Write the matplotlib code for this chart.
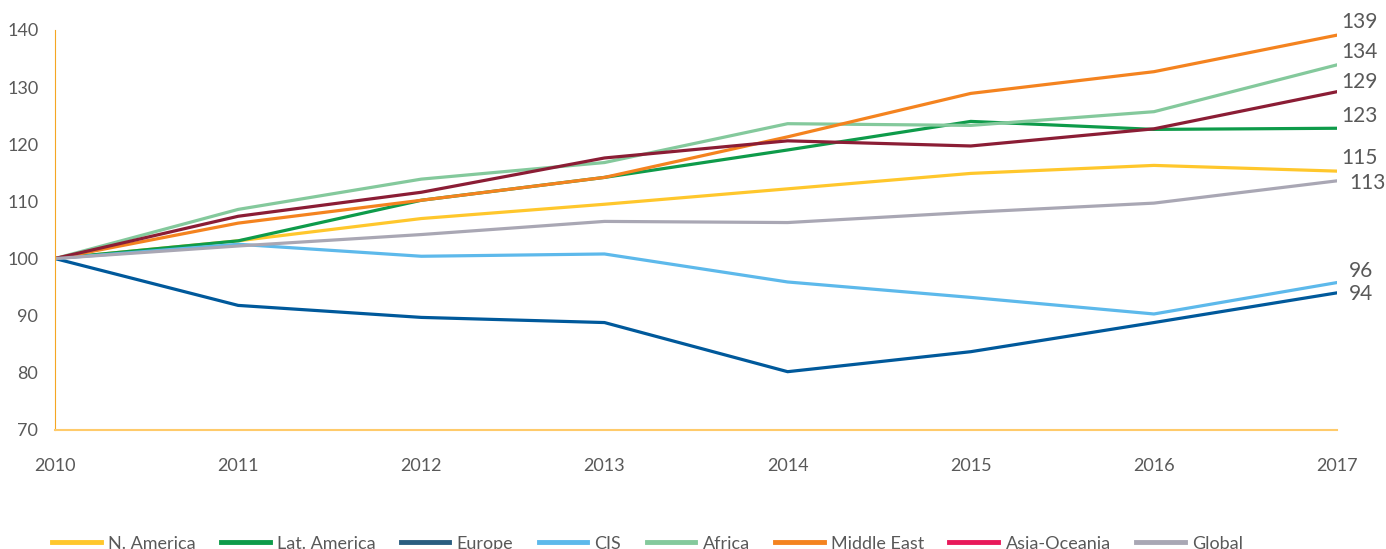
import matplotlib
matplotlib.use("Agg")
import matplotlib.pyplot as plt

plt.rcParams['font.family'] = ['Lato', 'DejaVu Sans']

years = [2010, 2011, 2012, 2013, 2014, 2015, 2016, 2017]

n_america = [100, 103.1, 107.0, 109.5, 112.2, 114.9, 116.3, 115.3]
lat_america = [100, 103.1, 110.2, 114.2, 119.0, 124.0, 122.6, 122.8]
europe = [100, 91.8, 89.7, 88.8, 80.2, 83.7, 88.8, 94.0]
cis = [100, 102.5, 100.4, 100.8, 95.9, 93.2, 90.3, 95.8]
africa = [100, 108.6, 113.9, 116.8, 123.6, 123.3, 125.7, 133.9]
middle_east = [100, 106.2, 110.2, 114.2, 121.3, 128.9, 132.7, 139.1]
asia_oceania = [100, 107.4, 111.6, 117.6, 120.6, 119.7, 122.7, 129.2]
global_idx = [100, 102.2, 104.2, 106.5, 106.3, 108.1, 109.7, 113.6]

names = ['N. America', 'Lat. America', 'Europe', 'CIS', 'Africa',
         'Middle East', 'Asia-Oceania', 'Global']
end_labels = ['115', '123', '94', '96', '134', '139', '129', '113']

series = [n_america, lat_america, europe, cis, africa, middle_east,
          asia_oceania, global_idx]
colors = ['#FFC72C', '#0E9B4A', '#00599B', '#5DB9EB', '#84C99C',
          '#F4831F', '#8B1D35', '#A9A7B4']
legend_colors = ['#FFC72C', '#0E9B4A', '#2A5D80', '#5DB9EB', '#84C99C',
                 '#F4831F', '#E8185A', '#A9A7B4']
# label offsets in pixels (dx, dy)
offsets = [(4, 13), (4, 12), (12, -1), (12, 12), (4, 13), (4, 13), (4, 10), (12, -2)]

fig = plt.figure(figsize=(13.86, 5.49), dpi=100)
ax = fig.add_axes([0.0397, 0.2168, 0.9250, 0.7286])

for vals, c, lab, off in zip(series, colors, end_labels, offsets):
    ax.plot(years, vals, color=c, lw=2.3, solid_joinstyle='round')
    ax.annotate(lab, (years[-1], vals[-1]), xytext=off, textcoords='offset pixels',
                ha='left', va='center', fontsize=15, color='#595959',
                annotation_clip=False)

ax.set_xlim(2010, 2017)
ax.set_ylim(70, 140)
ax.set_xticks(years)
ax.set_yticks(range(70, 141, 10))
ax.tick_params(length=0, labelsize=13, colors='#595959')
ax.tick_params(axis='x', pad=20)
ax.tick_params(axis='y', pad=12)

for s in ['top', 'right']:
    ax.spines[s].set_visible(False)
ax.spines['left'].set_color('#F5A623')
ax.spines['left'].set_linewidth(0.8)
ax.spines['bottom'].set_color('#FFCB6B')
ax.spines['bottom'].set_linewidth(1.5)

handles = [plt.Line2D([], [], color=c, lw=3.5) for c in legend_colors]
fig.legend(handles, names, loc='center left', bbox_to_anchor=(0.031, 0.01),
           ncol=8, frameon=False, fontsize=13, handlelength=2.7,
           handletextpad=0.4, columnspacing=1.4, borderpad=0,
           labelcolor='#595959')

fig.savefig('out.png', dpi=100)
